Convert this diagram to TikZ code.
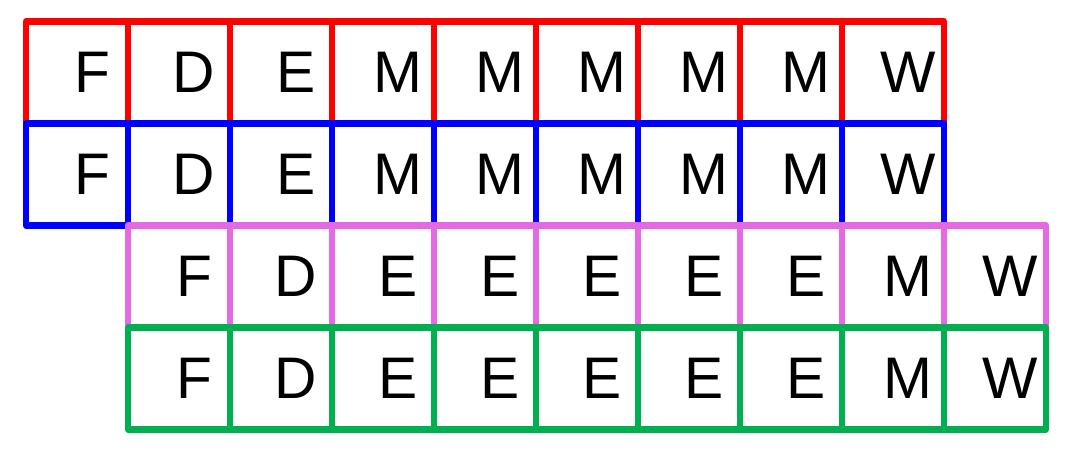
\documentclass[tikz,border=0pt]{standalone}
\usepackage{fontspec}
\setmainfont{Liberation Sans}
\usetikzlibrary{positioning}
\definecolor{stagered}{RGB}{255,0,0}
\definecolor{stageblue}{RGB}{0,0,255}
\definecolor{stagepink}{RGB}{228,106,228}
\definecolor{stagegreen}{RGB}{0,176,80}

\begin{document}
\begin{tikzpicture}[x=0.75pt,y=-0.75pt,
  cell/.style={draw,line width=4.9pt,line join=round,minimum width=76.5pt,
    minimum height=76.5pt,inner sep=0pt,outer sep=0pt},
  op/.style={font=\fontsize{44}{44}\selectfont,inner sep=0pt,xshift=11.25pt}]
 \useasboundingbox (0,0) rectangle (1069,450);
 % one row of pipeline stages per instruction
 \foreach \row/\skip/\clr/\ops in {1/0/stagered/{F,D,E,M,M,M,M,M,W},
     2/0/stageblue/{F,D,E,M,M,M,M,M,W},
     3/1/stagepink/{F,D,E,E,E,E,E,M,W},
     4/1/stagegreen/{F,D,E,E,E,E,E,M,W}}{
   \foreach \op [count=\col] in \ops {
     \node[cell,draw=\clr] (r\row c\col)
       at ({26+(\skip+\col-0.5)*102},{21.5+(\row-0.5)*102}) {};
     \node[op] (t\row c\col) at (r\row c\col.center) {\op};
   }
 }
\end{tikzpicture}
\end{document}
